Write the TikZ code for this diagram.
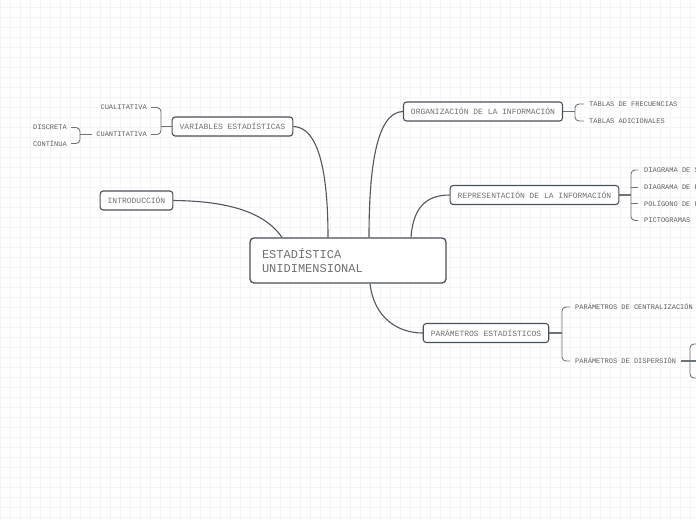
\documentclass[tikz,border=0pt]{standalone}
\usepackage{fontspec}
\newfontfamily\mono{Liberation Mono}
\definecolor{gridc}{HTML}{F4F4F4}
\definecolor{boxc}{HTML}{4A5159}
\definecolor{txtc}{HTML}{707070}
\definecolor{leafc}{HTML}{5E5E5E}
\definecolor{linec}{HTML}{50575F}
\definecolor{brc}{HTML}{6E7378}
\tikzset{
  topic/.style={draw=boxc, line width=1.1pt, rounded corners=3pt, fill=white,
    font=\mono\fontsize{8}{9}\selectfont, text=txtc, minimum height=19pt, inner xsep=7.5pt, inner ysep=0pt},
  central/.style={draw=boxc, line width=1.3pt, rounded corners=4pt, fill=white,
    font=\mono\fontsize{12}{14}\selectfont, text=txtc, minimum height=45pt, minimum width=196pt,
    text width=172pt, align=left, inner xsep=12pt},
  leaf/.style={font=\mono\fontsize{7}{8}\selectfont, text=leafc, inner sep=0pt},
  conn/.style={draw=linec, line width=1.1pt},
  brk/.style={draw=brc, line width=0.9pt, rounded corners=4pt},
}
\begin{document}
\begin{tikzpicture}[x=1pt,y=-1pt]
\useasboundingbox (0,0) rectangle (696,520);
\clip (0,0) rectangle (696,520);
\fill[white] (0,0) rectangle (696,520);
\foreach \i in {0,10,...,690} \draw[gridc, line width=0.7pt] (\i,0) -- (\i,520);
\foreach \j in {7,17,...,517} \draw[gridc, line width=0.7pt] (0,\j) -- (696,\j);

% central
\node[central] (cen) at (348,260.5) {ESTADÍSTICA\\UNIDIMENSIONAL};

% topics
\node[topic] (var) at (232.5,126.5) {VARIABLES ESTADÍSTICAS};
\node[topic] (intro) at (136.5,200.5) {INTRODUCCIÓN};
\node[topic] (org) at (483,111.5) {ORGANIZACIÓN DE LA INFORMACIÓN};
\node[topic] (rep) at (534.5,195) {REPRESENTACIÓN DE LA INFORMACIÓN};
\node[topic] (par) at (486,333) {PARÁMETROS ESTADÍSTICOS};

% main connectors
\draw[conn] (var.east) .. controls (318,127) and (328,170) .. ([xshift=-20pt]cen.north);
\draw[conn] (intro.east) .. controls (232,201) and (266,214) .. ([xshift=-66pt]cen.north);
\draw[conn] ([xshift=21pt]cen.north) .. controls (369,170) and (376,112) .. (org.west);
\draw[conn] ([xshift=63pt]cen.north) .. controls (413,210) and (424,195) .. (rep.west);
\draw[conn] ([xshift=22pt]cen.south) .. controls (374,318) and (398,333) .. (par.west);

% VARIABLES leaves
\node[leaf, anchor=east] (cual) at (147,107.5) {CUALITATIVA};
\node[leaf, anchor=east] (cuan) at (147,134.5) {CUANTITATIVA};
\node[leaf, anchor=east] (disc) at (67,127.5) {DISCRETA};
\node[leaf, anchor=east] (cont) at (67,143.5) {CONTÍNUA};
\coordinate (b1) at (161,120);
\draw[brk] ([xshift=4pt]cual.east) -| (b1) |- ([xshift=4pt]cuan.east);
\draw[brc, line width=1.1pt] (var.west) -- (var.west -| b1);
\coordinate (b2) at (80,135);
\draw[brk] ([xshift=4pt]disc.east) -| (b2) |- ([xshift=4pt]cont.east);
\draw[brc, line width=1.1pt] ([xshift=-4pt]cuan.west) -- (cuan.west -| b2);

% ORGANIZACION leaves
\node[leaf, anchor=west] (tf) at (589,104) {TABLAS DE FRECUENCIAS};
\node[leaf, anchor=west] (ta) at (589,121) {TABLAS ADICIONALES};
\coordinate (b3) at (575,112);
\draw[brk] ([xshift=-5pt]tf.west) -| (b3) |- ([xshift=-5pt]ta.west);
\draw[brc, line width=1.1pt] (org.east) -- (org.east -| b3);

% REPRESENTACION leaves (cut at the right edge, as in the reference)
\node[leaf, anchor=west] (d1) at (644,170) {DIAGRAMA DE SECTORES};
\node[leaf, anchor=west] (d2) at (644,187) {DIAGRAMA DE BARRAS};
\node[leaf, anchor=west] (d3) at (644,203.5) {POLÍGONO DE FRECUENCIAS};
\node[leaf, anchor=west] (d4) at (644,220.5) {PICTOGRAMAS};
\coordinate (b4) at (631,195);
\draw[brk] ([xshift=-6pt]d1.west) -| (b4) |- ([xshift=-6pt]d4.west);
\draw[brk] ([xshift=-6pt]d2.west) -- (d2.west -| b4);
\draw[brk] ([xshift=-6pt]d3.west) -- (d3.west -| b4);
\draw[brc, line width=1.1pt] (rep.east) -- (rep.east -| b4);

% PARAMETROS leaves
\node[leaf, anchor=west] (pc) at (575,307) {PARÁMETROS DE CENTRALIZACIÓN};
\node[leaf, anchor=west] (pd) at (575,361) {PARÁMETROS DE DISPERSIÓN};
\coordinate (b5) at (562,333);
\draw[brk] ([xshift=-5pt]pc.west) -| (b5) |- ([xshift=-5pt]pd.west);
\draw[brc, line width=1.1pt] (par.east) -- (par.east -| b5);

% dispersion sub-bracket (cut at edge)
\coordinate (b6t) at (702,344);
\coordinate (b6) at (690,361);
\coordinate (b6b) at (702,378);
\draw[brk] (b6t) -| (b6) |- (b6b);
\draw[brc, line width=1.1pt] ([xshift=5pt]pd.east) -- (700,361);
\end{tikzpicture}
\end{document}
